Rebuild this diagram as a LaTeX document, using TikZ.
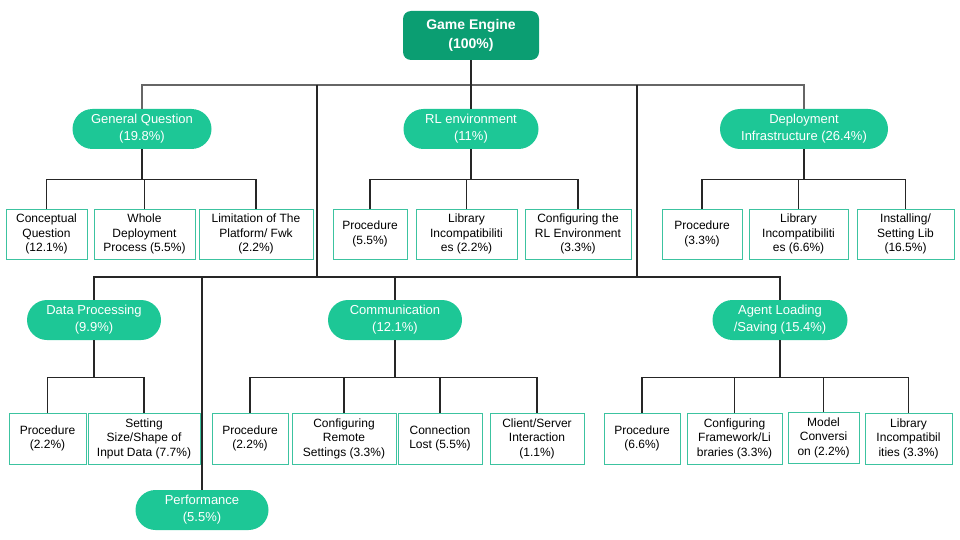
\documentclass[tikz,border=0pt]{standalone}
\usepackage{fontspec}
\setmainfont{Liberation Sans}
\usepackage{tikz}
\usetikzlibrary{positioning,calc}

\definecolor{rootgreen}{HTML}{0B9E72}
\definecolor{pillgreen}{HTML}{1DC796}
\definecolor{boxedge}{HTML}{3CC3A0}

\begin{document}
\begin{tikzpicture}[
    x=1pt, y=-1pt,
    root/.style={rectangle, rounded corners=8pt, fill=rootgreen, text=white, minimum width=136pt, minimum height=49pt, inner sep=0pt, align=center, font=\fontsize{14}{19}\selectfont\bfseries},
    pill/.style={rectangle, rounded corners=20pt, fill=pillgreen, text=white, minimum height=40pt, inner sep=0pt, align=center, font=\fontsize{13}{17}\selectfont},
    leaf/.style={rectangle, draw=boxedge, line width=1pt, fill=white, minimum height=50pt, inner sep=0pt, align=center, font=\fontsize{12}{14.5}\selectfont},
    link/.style={draw=black!85, line width=1.3pt},
    bus/.style={draw=black!60, line width=1.3pt}
]
\useasboundingbox (0,0) rectangle (960,540);

% Root
\node[root] (root) at (471,35.5) {Game Engine\\(100\%)};

% First level
\node[pill, minimum width=139pt] (gq) at (142,129) {General Question\\(19.8\%)};
\node[pill, minimum width=135pt] (rl) at (471,129) {RL environment\\(11\%)};
\node[pill, minimum width=168pt] (di) at (804,129) {Deployment\\Infrastructure (26.4\%)};
\node[pill, minimum width=134pt] (dp) at (94,320) {Data Processing\\(9.9\%)};
\node[pill, minimum width=134pt] (cm) at (395,320) {Communication\\(12.1\%)};
\node[pill, minimum width=135pt] (al) at (780,320) {Agent Loading\\/Saving (15.4\%)};
\node[pill, minimum width=133pt] (pf) at (202,510) {Performance\\(5.5\%)};

% General Question leaves
\node[leaf, minimum width=81pt] (c1) at (46.5,234) {Conceptual\\Question\\(12.1\%)};
\node[leaf, minimum width=101pt] (c2) at (144.5,234) {Whole\\Deployment\\Process (5.5\%)};
\node[leaf, minimum width=114pt] (c3) at (256,234) {Limitation of The\\Platform/ Fwk\\(2.2\%)};

% RL environment leaves
\node[leaf, minimum width=74pt] (r1) at (370,234) {Procedure\\(5.5\%)};
\node[leaf, minimum width=101pt] (r2) at (466.5,234) {Library\\Incompatibiliti\\es (2.2\%)};
\node[leaf, minimum width=106pt] (r3) at (578,234) {Configuring the\\RL Environment\\(3.3\%)};

% Deployment Infrastructure leaves
\node[leaf, minimum width=80pt] (d1) at (702,234) {Procedure\\(3.3\%)};
\node[leaf, minimum width=99pt] (d2) at (798.5,234) {Library\\Incompatibiliti\\es (6.6\%)};
\node[leaf, minimum width=97pt] (d3) at (905.5,234) {Installing/\\Setting Lib\\(16.5\%)};

% Data Processing leaves
\node[leaf, minimum width=77pt, minimum height=51pt] (p1) at (47.5,438.5) {Procedure\\(2.2\%)};
\node[leaf, minimum width=112pt, minimum height=51pt] (p2) at (144,438.5) {Setting\\Size/Shape of\\Input Data (7.7\%)};

% Communication leaves
\node[leaf, minimum width=76pt, minimum height=51pt] (m1) at (250,438.5) {Procedure\\(2.2\%)};
\node[leaf, minimum width=104pt, minimum height=51pt] (m2) at (344,438.5) {Configuring\\Remote\\Settings (3.3\%)};
\node[leaf, minimum width=84pt, minimum height=51pt] (m3) at (440,438.5) {Connection\\Lost (5.5\%)};
\node[leaf, minimum width=94pt, minimum height=51pt] (m4) at (537,438.5) {Client/Server\\Interaction\\(1.1\%)};

% Agent Loading leaves
\node[leaf, minimum width=76pt, minimum height=51pt] (a1) at (642,438.5) {Procedure\\(6.6\%)};
\node[leaf, minimum width=95pt, minimum height=51pt] (a2) at (734.5,438.5) {Configuring\\Framework/Li\\braries (3.3\%)};
\node[leaf, minimum width=71pt, minimum height=51pt] (a3) at (823.5,437.5) {Model\\Conversi\\on (2.2\%)};
\node[leaf, minimum width=87pt, minimum height=51pt] (a4) at (908.5,438.5) {Library\\Incompatibil\\ities (3.3\%)};

% Trunk and buses
\coordinate (t1) at (317,85);
\coordinate (t2) at (637,85);
\coordinate (l1) at (317,277);
\coordinate (l2) at (637,277);
\draw[bus] (gq.north) |- (t1) -- (t2) -| (di.north);
\draw[link] (root.south) -- (rl.north);
\draw[link] (t1) -- (l1);
\draw[link] (t2) -- (l2);
\draw[link] (dp.north) |- (l1) -- (l2) -| (al.north);
\draw[link] (cm.north) -- (cm.north |- l1);
\draw[link] (pf.north) -- (pf.north |- l1);

% General Question branch
\draw[link] (gq.south) -- ++(0,30) coordinate (gqb);
\draw[link] (c1.north) |- (gqb) -| (c3.north);
\draw[link] (c2.north) -- (c2.north |- gqb);

% RL environment branch
\draw[link] (rl.south) -- ++(0,30) coordinate (rlb);
\draw[link] (r1.north) |- (rlb) -| (r3.north);
\draw[link] (r2.north) -- (r2.north |- rlb);

% Deployment Infrastructure branch
\draw[link] (di.south) -- ++(0,30) coordinate (dib);
\draw[link] (d1.north) |- (dib) -| (d3.north);
\draw[link] (d2.north) -- (d2.north |- dib);

% Data Processing branch
\draw[link] (dp.south) -- ++(0,37) coordinate (dpb);
\draw[link] (p1.north) |- (dpb) -| (p2.north);

% Communication branch
\draw[link] (cm.south) -- ++(0,37) coordinate (cmb);
\draw[link] (m1.north) |- (cmb) -| (m4.north);
\draw[link] (m2.north) -- (m2.north |- cmb);
\draw[link] (m3.north) -- (m3.north |- cmb);

% Agent Loading branch
\draw[link] (al.south) -- ++(0,37) coordinate (alb);
\draw[link] (a1.north) |- (alb) -| (a4.north);
\draw[link] (a2.north) -- (a2.north |- alb);
\draw[link] (a3.north) -- (a3.north |- alb);

\end{tikzpicture}
\end{document}
